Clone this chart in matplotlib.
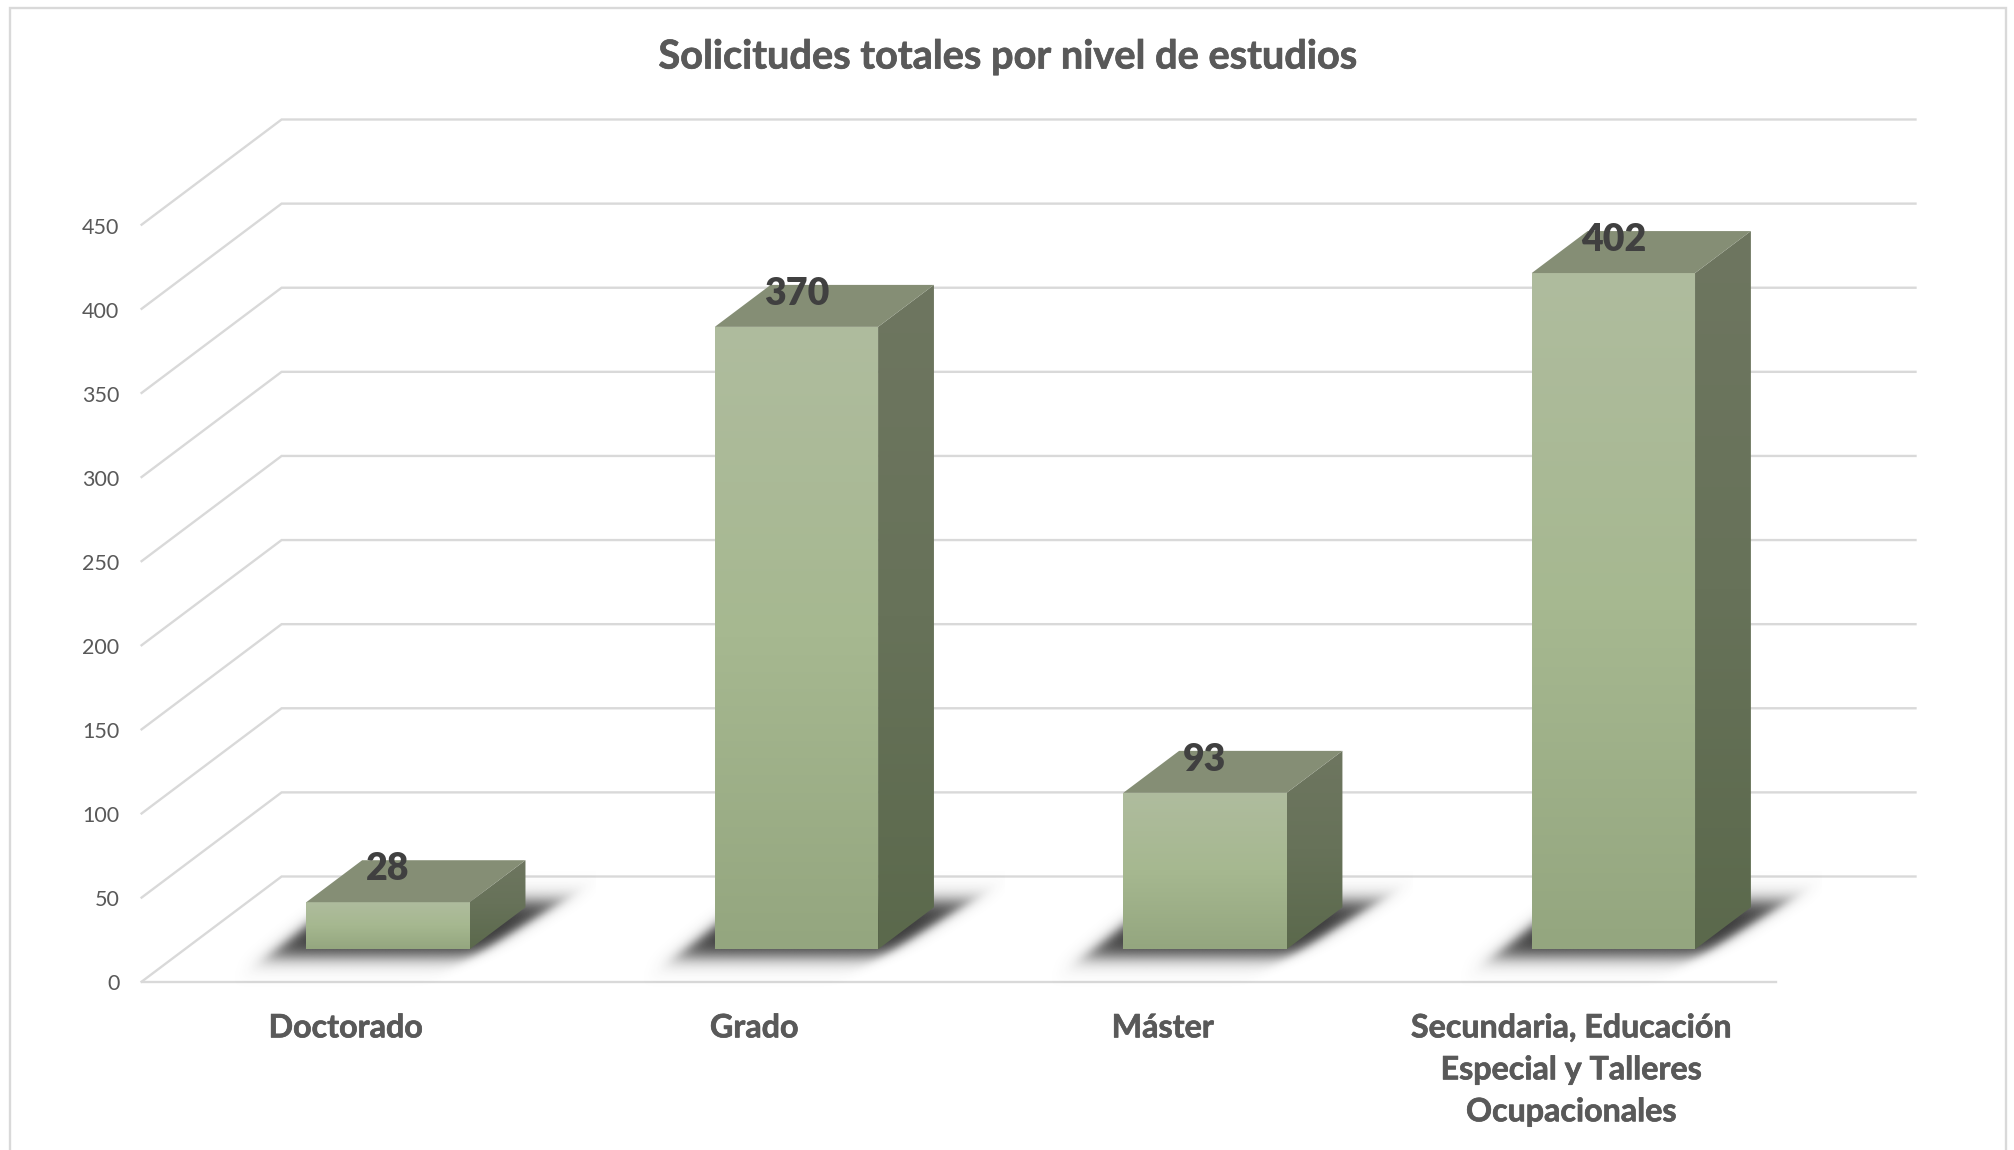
import numpy as np
import matplotlib
matplotlib.use("Agg")
import matplotlib.pyplot as plt
from matplotlib.patches import Polygon
from matplotlib.lines import Line2D
from matplotlib.colors import LinearSegmentedColormap, to_rgb
from matplotlib.transforms import ScaledTranslation
import matplotlib.patheffects as pe

# ---- data ----
categories = ["Doctorado", "Grado", "Máster",
              "Secundaria, Educación\nEspecial y Talleres\nOcupacionales"]
values = [28, 370, 93, 402]
y_ticks = [0, 50, 100, 150, 200, 250, 300, 350, 400, 450]
title = "Solicitudes totales por nivel de estudios"

# ---- layout (pixels of the 2015x1150 figure) ----
W, H = 2015, 1150
X0, X1 = 141.6, 1775.5      # front floor edge
Y0, Y450 = 981.7, 224.7     # front wall edge for 0 and 450
plt.rcParams['font.family'] = ['Lato', 'DejaVu Sans']

fig = plt.figure(figsize=(W / 100, H / 100), dpi=100, facecolor="white")
ax = fig.add_axes([X0 / W, 1 - Y0 / H, (X1 - X0) / W, (Y0 - Y450) / H])
ax.set_facecolor("none")
for s in ax.spines.values():
    s.set_visible(False)

PX_X = (X1 - X0) / 4                # px per category
PX_Y = (Y0 - Y450) / 450            # px per value unit
DX = 140.0 / PX_X                   # full depth in category units
DY = 105.2 / PX_Y                   # full depth in value units
XMIN, XMAX = -0.5, 3.5
BAR_W = 163.3 / PX_X
BAR_SHIFT = -1.0 / PX_X
D_FRONT, D_BACK = 0.308, 0.707


def proj(x, y, d=0.0):
    return (x + d * DX, y + d * DY)


GRID = "#D9D9D9"
LW = 1.7
for t in y_ticks:
    a, b, c = proj(XMIN, t), proj(XMIN, t, 1), proj(XMAX, t, 1)
    ax.add_line(Line2D([a[0], b[0], c[0]], [a[1], b[1], c[1]], color=GRID, lw=LW,
                       clip_on=False, zorder=1, solid_joinstyle="miter"))
ax.add_line(Line2D([XMIN, XMAX], [0, 0], color=GRID, lw=LW, clip_on=False, zorder=1))

front_cmap = LinearSegmentedColormap.from_list("front", ["#AFBC9E", "#A6B890", "#94A67F"])
side_cmap = LinearSegmentedColormap.from_list("side", ["#6E7660", "#677259", "#5B694C"])
TOP_COLOR = "#858E75"
SHADOW_RGB = to_rgb("#3A3A3A")


def grad_face(poly, cmap, z=3):
    patch = Polygon(poly, closed=True, transform=ax.transData, facecolor="none",
                    edgecolor="none", clip_on=False)
    ax.add_patch(patch)
    xs, ys = zip(*poly)
    g = np.linspace(0, 1, 256)[:, None]
    im = ax.imshow(g, cmap=cmap, vmin=0, vmax=1, aspect="auto", origin="upper",
                   extent=(min(xs), max(xs), min(ys), max(ys)), zorder=z,
                   interpolation="bilinear")
    im.set_clip_box(fig.bbox)
    im.set_clip_path(patch)


def shadow(left):
    # soft dark parallelogram on the floor around the foot of a bar
    left_px, right_px = -38.0, 168.0
    shear_l, shear_r, h_px = 68.0, 88.0, 56.0
    ybot_px = 8.0
    nx, ny = 460, 170
    pad = 34.0
    xs = np.linspace(left_px - pad, right_px + shear_r + pad, nx)
    ys = np.linspace(-ybot_px - pad, h_px - ybot_px + pad, ny)   # up = positive
    xx, yy = np.meshgrid(xs, ys)
    t = (yy + ybot_px) / h_px
    s = 5.5
    sig = lambda v: 1 / (1 + np.exp(-v / s))
    a = (sig(xx - (left_px + t * shear_l)) * sig((right_px + t * shear_r) - xx)
         * sig(yy + ybot_px) * sig(h_px - ybot_px - yy))
    rgba = np.zeros((ny, nx, 4))
    rgba[..., :3] = SHADOW_RGB
    rgba[..., 3] = a
    bx, by = proj(left, 0, D_FRONT)
    im = ax.imshow(rgba, origin="lower", aspect="auto", zorder=2, interpolation="bilinear",
                   extent=(bx + xs[0] / PX_X, bx + xs[-1] / PX_X,
                           by + ys[0] / PX_Y, by + ys[-1] / PX_Y))
    im.set_clip_box(fig.bbox)


for i, v in enumerate(values):
    l, r = i + BAR_SHIFT - BAR_W / 2, i + BAR_SHIFT + BAR_W / 2
    shadow(l)
    fl, fr = proj(l, 0, D_FRONT), proj(r, 0, D_FRONT)
    tl, tr = proj(l, v, D_FRONT), proj(r, v, D_FRONT)
    bl_t, br_t = proj(l, v, D_BACK), proj(r, v, D_BACK)
    br = proj(r, 0, D_BACK)
    grad_face([fl, fr, tr, tl], front_cmap)
    grad_face([fr, br, br_t, tr], side_cmap)
    ax.add_patch(Polygon([tl, tr, br_t, bl_t], closed=True, facecolor=TOP_COLOR,
                         edgecolor="none", clip_on=False, zorder=3))
    ax.annotate(str(v), xy=proj(i + BAR_SHIFT, v, D_FRONT), xytext=(0, 24), textcoords="offset points",
                ha="center", va="center", fontsize=27, fontweight="heavy", color="#404040",
                zorder=6, annotation_clip=False)

ax.set_xlim(XMIN, XMAX)
ax.set_ylim(0, 450)
ax.set_xticks(range(len(categories)))
ax.set_xticklabels(categories, fontsize=23.2, fontweight="bold", color="#595959",
                   linespacing=1.54,
                   path_effects=[pe.withStroke(linewidth=0.5, foreground="#595959")])
ax.set_yticks(y_ticks)
ax.set_yticklabels([str(t) for t in y_ticks], fontsize=15.5, color="#595959")
ax.tick_params(axis="x", length=0, pad=22.8)
ax.tick_params(axis="y", length=0, pad=16)
shift = ScaledTranslation(0, -0.8 / 100, fig.dpi_scale_trans)
for lab in ax.get_yticklabels():
    lab.set_transform(lab.get_transform() + shift)

fig.text(1007.5 / W, 1 - 57 / H, title, ha="center", va="center", fontsize=28.6,
         fontweight="bold", color="#595959",
         path_effects=[pe.withStroke(linewidth=0.5, foreground="#595959")])

# chart frame, open at the bottom where the picture is cut
fig.add_artist(Line2D(np.array([10, 10, 2006, 2006]) / W,
                      1 - np.array([1150, 8, 8, 1150]) / H,
                      color=GRID, lw=1.7, solid_joinstyle="miter"))

fig.savefig("out.png", dpi=100)
